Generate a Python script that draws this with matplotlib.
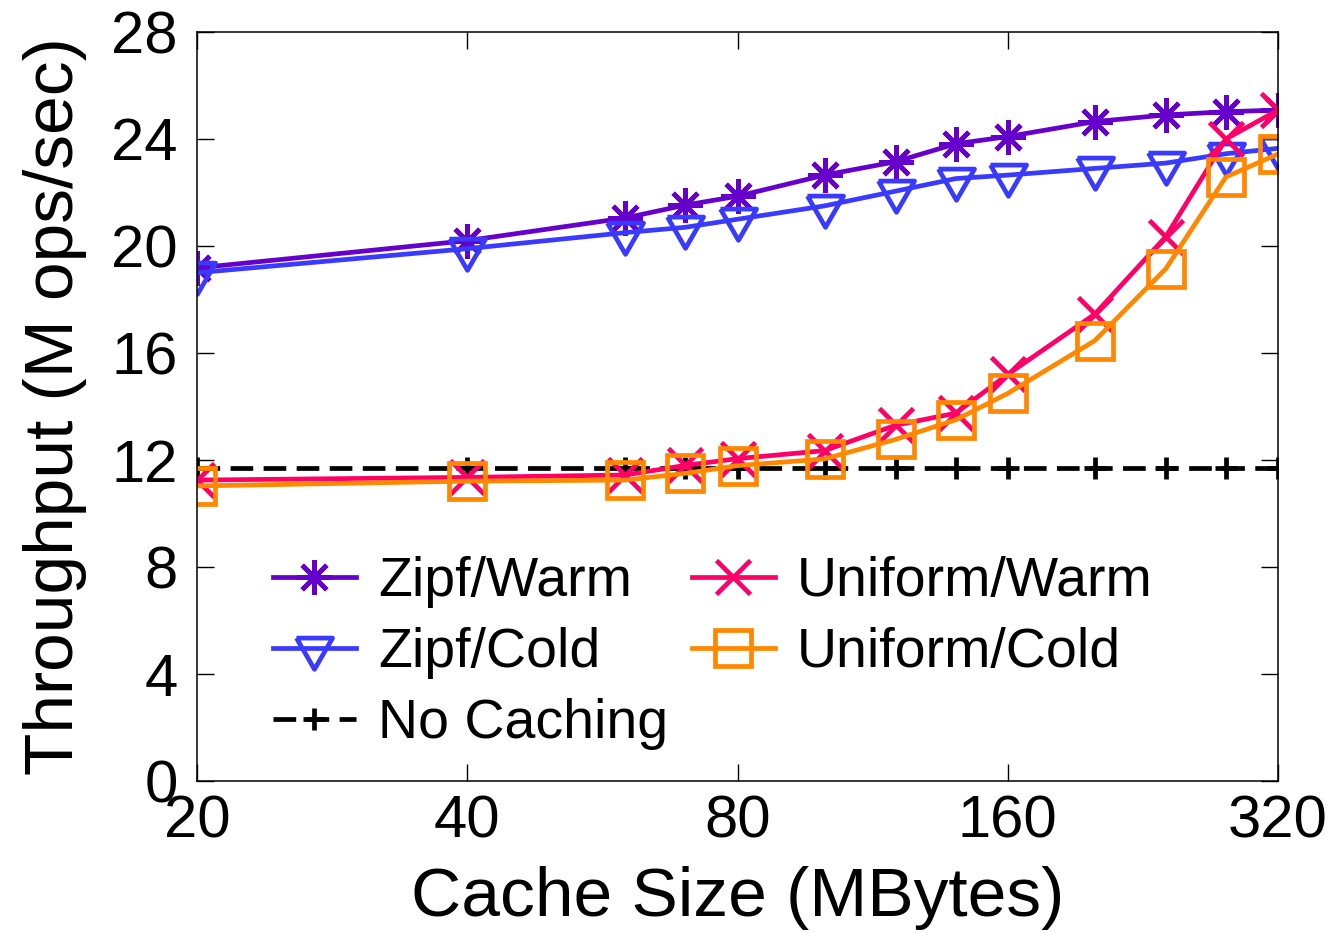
import matplotlib
matplotlib.use("Agg")
import matplotlib.pyplot as plt

# Cache sizes (MBytes) and measured throughput (M ops/sec)
cache_mb = [20, 40, 60, 70, 80, 100, 120, 140, 160, 200, 240, 280, 320]
zipf_warm = [19.18, 20.2, 21.05, 21.53, 21.86, 22.65, 23.15, 23.82, 24.09, 24.65, 24.9, 25.02, 25.08]
zipf_cold = [19.0, 19.9, 20.5, 20.7, 21.0, 21.5, 22.05, 22.52, 22.65, 22.9, 23.1, 23.45, 23.65]
uniform_warm = [11.25, 11.35, 11.44, 11.8, 12.05, 12.35, 13.3, 13.75, 15.2, 17.45, 20.35, 24.0, 25.08]
uniform_cold = [11.03, 11.21, 11.25, 11.5, 11.79, 12.04, 12.77, 13.5, 14.49, 16.46, 19.15, 22.58, 23.44]
no_caching = [11.7] * len(cache_mb)

x_ticks = [20, 40, 80, 160, 320]
y_ticks = [0, 4, 8, 12, 16, 20, 24, 28]

plt.rcParams["font.family"] = ["Liberation Sans", "DejaVu Sans"]

W, H = 1336, 933
fig = plt.figure(figsize=(W / 100, H / 100), dpi=100)
ax = fig.add_axes([197 / W, (H - 781) / H, (1278 - 197) / W, (781 - 32) / H])

# down-pointing triangle with its centroid on the data point
tri_down = [(-1.0, 0.577), (1.0, 0.577), (0.0, -1.155), (-1.0, 0.577)]

lw = 3.4
mew = 3.4
ax.plot(cache_mb, zipf_warm, color="#6600cc", lw=lw, marker=(8, 2, 0),
        ms=25, mew=mew, label="Zipf/Warm")
ax.plot(cache_mb, zipf_cold, color="#3a3aff", lw=lw, marker=tri_down,
        ms=30, mew=mew, mfc="none", label="Zipf/Cold")
ax.plot(cache_mb, no_caching, color="black", lw=lw, ls=(0, (4.8, 2.2)),
        marker="+", ms=16, mew=mew, label="No Caching")
ax.plot(cache_mb, uniform_warm, color="#ff0066", lw=lw, marker="x",
        ms=25, mew=mew, label="Uniform/Warm")
ax.plot(cache_mb, uniform_cold, color="#ff8800", lw=lw, marker="s",
        ms=26, mew=mew, mfc="none", label="Uniform/Cold")

ax.set_xscale("log", base=2)
ax.set_xlim(20, 320)
ax.set_ylim(0, 28)
ax.set_xticks(x_ticks)
ax.set_xticklabels([str(v) for v in x_ticks])
ax.set_yticks(y_ticks)
ax.set_yticklabels([str(v) for v in y_ticks])
ax.xaxis.set_minor_locator(matplotlib.ticker.NullLocator())
ax.yaxis.set_minor_locator(matplotlib.ticker.NullLocator())

ax.tick_params(axis="both", which="major", direction="in", length=12,
               width=1.0, top=True, right=True, labelsize=43, color="black")
ax.tick_params(axis="x", pad=10)
ax.tick_params(axis="y", pad=14)
for s in ax.spines.values():
    s.set_linewidth(1.1)
    s.set_color("black")

ax.set_xlabel("Cache Size (MBytes)", fontsize=50)
ax.set_ylabel("Throughput (M ops/sec)", fontsize=50)
ax.xaxis.set_label_coords(0.5, -0.113)
ax.yaxis.set_label_coords(-0.102, 0.5)

leg = ax.legend(loc="upper left", bbox_to_anchor=(0.070, 0.300), ncol=2,
                frameon=False, fontsize=40, borderpad=0, borderaxespad=0,
                handlelength=1.5, handletextpad=0.4, columnspacing=0.42,
                labelspacing=0.34)

fig.savefig("out.png", dpi=100)
